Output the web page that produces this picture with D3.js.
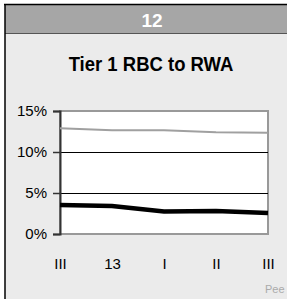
<!DOCTYPE html>
<html>
<head>
<meta charset="utf-8">
<script src="https://cdn.jsdelivr.net/npm/d3@7"></script>
<style>
  body { margin: 0; background: #fff; }
  svg { display: block; }
</style>
</head>
<body>
<div id="chart"></div>
<script>
// chart data
const categories = ["III", "13", "I", "II", "III "];
const totalRatio = [12.9, 12.65, 12.65, 12.4, 12.35];
const tier1Ratio = [3.55, 3.4, 2.75, 2.8, 2.55];
const yTicks = [0, 5, 10, 15];

const width = 287, height = 299;
const margin = { top: 111, right: 19, bottom: 65, left: 60 };

const svg = d3.select("#chart").append("svg")
  .attr("width", width)
  .attr("height", height);

// panel background
svg.append("rect").attr("x", 5).attr("y", 4).attr("width", width - 5).attr("height", height - 4)
  .attr("fill", "#ebebeb");
// header
svg.append("rect").attr("x", 5).attr("y", 5).attr("width", width - 5).attr("height", 28)
  .attr("fill", "#a6a6a6");
svg.append("line").attr("x1", 5).attr("x2", width).attr("y1", 33.5).attr("y2", 33.5)
  .attr("stroke", "#555").attr("stroke-width", 1);
svg.append("line").attr("x1", 4).attr("x2", width).attr("y1", 4.5).attr("y2", 4.5)
  .attr("stroke", "#000").attr("stroke-width", 1.5);
svg.append("line").attr("x1", 5).attr("x2", 5).attr("y1", 4).attr("y2", height)
  .attr("stroke", "#000").attr("stroke-width", 1.5);

svg.append("text")
  .attr("x", 152).attr("y", 26.5)
  .attr("text-anchor", "middle")
  .attr("font-family", "Liberation Sans, Arial, sans-serif")
  .attr("font-weight", "bold")
  .attr("font-size", 19)
  .attr("fill", "#fff")
  .text("12");

// title, stretched a bit taller like the original condensed face
svg.append("text")
  .attr("transform", "translate(151,71) scale(1,1.1)")
  .attr("text-anchor", "middle")
  .attr("font-family", "Liberation Sans, Arial, sans-serif")
  .attr("font-weight", "bold")
  .attr("font-size", 18.5)
  .attr("fill", "#000")
  .text("Tier 1 RBC to RWA");

const x = d3.scalePoint()
  .domain(categories)
  .range([margin.left, width - margin.right]);

const y = d3.scaleLinear()
  .domain([0, 15])
  .range([height - margin.bottom, margin.top]);

// plot area
svg.append("rect")
  .attr("x", margin.left).attr("y", y(15))
  .attr("width", x.range()[1] - margin.left)
  .attr("height", y(0) - y(15))
  .attr("fill", "#fff")
  .attr("stroke", "#999")
  .attr("stroke-width", 2);

// gridlines
svg.append("g")
  .selectAll("line")
  .data([5, 10])
  .join("line")
  .attr("x1", margin.left).attr("x2", x.range()[1])
  .attr("y1", d => Math.round(y(d)) + 0.5).attr("y2", d => Math.round(y(d)) + 0.5)
  .attr("stroke", "#000").attr("stroke-width", 1);

// y axis
const yAxis = svg.append("g")
  .attr("transform", `translate(${margin.left},0)`)
  .call(d3.axisLeft(y).tickValues(yTicks).tickSize(7).tickPadding(6).tickFormat(d => d + "%"));
yAxis.select(".domain").attr("stroke", "#333").attr("stroke-width", 2);
yAxis.selectAll(".tick line").attr("stroke", "#333").attr("stroke-width", 1.5);
yAxis.selectAll("text")
  .attr("font-family", "Liberation Sans, Arial, sans-serif")
  .attr("font-size", 15)
  .attr("fill", "#000");

// x axis labels
const xAxis = svg.append("g")
  .attr("transform", `translate(0,${y(0)})`)
  .call(d3.axisBottom(x).tickSize(0).tickPadding(24).tickFormat(d => d.trim()));
xAxis.select(".domain").remove();
xAxis.selectAll("text")
  .attr("font-family", "Liberation Sans, Arial, sans-serif")
  .attr("font-size", 15)
  .attr("fill", "#000");

const line = d3.line()
  .x((d, i) => x(categories[i]))
  .y(d => y(d));

svg.append("path")
  .datum(totalRatio)
  .attr("d", line)
  .attr("fill", "none")
  .attr("stroke", "#a0a0a0")
  .attr("stroke-width", 2);

svg.append("path")
  .datum(tier1Ratio)
  .attr("d", line)
  .attr("fill", "none")
  .attr("stroke", "#000")
  .attr("stroke-width", 4.5);

// source note, only its start is visible in the original
svg.append("text")
  .attr("x", 265).attr("y", 293)
  .attr("font-family", "Liberation Sans, Arial, sans-serif")
  .attr("font-size", 11)
  .attr("fill", "#aaa")
  .text("Pee");
</script>
</body>
</html>
